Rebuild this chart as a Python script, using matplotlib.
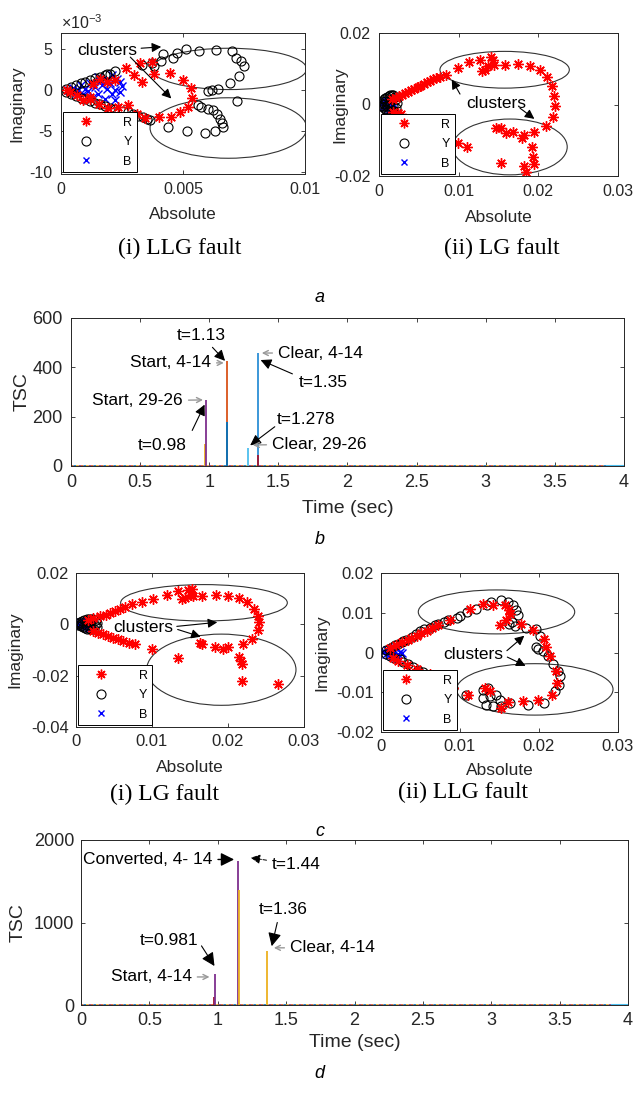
import matplotlib
matplotlib.use('Agg')
from matplotlib import pyplot as plt
from matplotlib.patches import Ellipse

plt.rcParams['font.family'] = ['Liberation Sans', 'DejaVu Sans']
plt.rcParams['mathtext.fontset'] = 'custom'
plt.rcParams['mathtext.rm'] = 'Liberation Sans'

# ---------------- data ----------------
# (a)(i) LLG fault, imaginary values in 1e-3 units
a1_R_x = [0.00023, 0.00037, 0.00064, 0.00092, 0.00119, 0.00133, 0.0016, 0.0019, 0.00221, 0.00266,
          0.00299, 0.00331, 0.00324, 0.00372, 0.00381, 0.00447, 0.00499, 0.00531, 0.00538, 0.00522,
          0.00488, 0.00449, 0.00403, 0.00344, 0.00313, 0.00276, 0.00235, 0.00194, 0.00155, 0.0012]
a1_R_y = [0.0, -0.2, -0.61, -1.23, -0.82, 0.82, 1.43, 1.02, 1.31, 2.79,
          1.93, 1.02, 3.36, 3.44, 2.05, 2.13, 1.31, 0.33, -0.9, -2.05,
          -2.66, -3.2, -3.28, -3.36, -2.87, -1.84, -2.05, -2.13, -1.6, -1.1]
a1_Y_x = [0.0002, 0.0004, 0.0006, 0.0008, 0.001, 0.0012, 0.0014, 0.0016, 0.0018, 0.002,
          0.0002, 0.0004, 0.0006, 0.0008, 0.001, 0.0012, 0.0014, 0.0016, 0.0018, 0.002, 0.0022,
          0.00187, 0.00221, 0.00255, 0.00276, 0.00296, 0.00317, 0.00337, 0.00351, 0.00365,
          0.00331, 0.00372, 0.00383, 0.00408, 0.00419, 0.0046, 0.00474, 0.00511, 0.00564, 0.00635,
          0.00702, 0.00717, 0.00736, 0.0075, 0.0073, 0.00693, 0.00645, 0.00617, 0.00601,
          0.00723, 0.00563, 0.00574, 0.00604, 0.00624, 0.00638, 0.00652, 0.00658, 0.00663, 0.00631,
          0.0059, 0.00515, 0.0044]
a1_Y_y = [0.2, 0.4, 0.6, 0.85, 1.05, 1.25, 1.45, 1.65, 1.85, 2.05,
          -0.2, -0.45, -0.65, -0.9, -1.1, -1.3, -1.5, -1.7, -1.9, -2.1, -2.3,
          2.05, 2.34, -2.46, -2.66, -2.87, -3.07, -3.28, -3.48, -3.6,
          3.07, 3.28, 2.99, 3.61, 4.39, 3.89, 4.51, 5.0, 4.8, 4.92,
          4.75, 3.89, 3.57, 2.95, 1.72, 0.94, 0.2, 0.0, -0.08,
          -1.31, -1.84, -2.05, -2.25, -2.34, -2.87, -3.48, -4.02, -4.51, -4.92,
          -5.2, -4.92, -4.43]
a1_B_x = [0.0003, 0.0005, 0.0006, 0.0008, 0.0009, 0.001, 0.0011, 0.0012, 0.0013, 0.0014, 0.0015,
          0.0016, 0.0017, 0.0018, 0.0019, 0.002, 0.0021, 0.0022, 0.0023, 0.0024, 0.0025, 0.0015,
          0.0019, 0.0022, 0.0007, 0.0004, 0.0021, 0.0024]
a1_B_y = [0.05, 0.3, -0.3, 0.6, -0.5, 0.2, -0.1, 0.9, -0.8, 0.4, -0.4,
          1.2, 0.6, -1.0, 0.2, 0.9, -0.5, 0.1, 1.4, -0.2, 0.5, 1.6,
          1.4, -1.2, 0.1, -0.1, 1.9, 1.0]

# (a)(ii) LG fault
a2_R_x = [0.00169, 0.0021, 0.00248, 0.0029, 0.00326, 0.0037, 0.00405, 0.0044, 0.00484, 0.0052, 0.00562,
          0.006, 0.00641, 0.0068, 0.00712, 0.0077, 0.00837, 0.00987, 0.01132, 0.0127, 0.0129, 0.01329,
          0.01368, 0.014, 0.01427, 0.01447, 0.01585, 0.0175, 0.01891, 0.02017, 0.02115, 0.02174,
          0.02202, 0.02214, 0.02186, 0.02096, 0.01946, 0.0182, 0.01793, 0.01683, 0.01592, 0.01537,
          0.01467, 0.00995, 0.01105, 0.01533, 0.01918, 0.01931, 0.0195, 0.0182, 0.0184,
          0.0018, 0.0024, 0.0027]
a2_R_y = [0.0015, 0.0019, 0.00224, 0.0027, 0.00318, 0.0036, 0.00411, 0.0044, 0.00486, 0.0053, 0.0058,
          0.0062, 0.00664, 0.007, 0.00738, 0.0078, 0.00832, 0.0102, 0.01178, 0.01252, 0.00925, 0.00972,
          0.01065, 0.01327, 0.01252, 0.01112, 0.01112, 0.01131, 0.01084, 0.00953, 0.00766, 0.00523,
          0.00243, -0.00028, -0.00336, -0.00598, -0.00757, -0.0085, -0.00944, -0.00757, -0.00804, -0.00645,
          -0.00645, -0.01065, -0.01178, -0.01626, -0.01196, -0.01458, -0.01673, -0.0171, -0.01878,
          -0.0022, -0.0025, -0.0026]
a2_Y_x = [0.0002, 0.0004, 0.0006, 0.0008, 0.001, 0.0012, 0.0014, 0.0016, 0.0018, 0.002, 0.0021, 0.0022,
          0.0003, 0.0005, 0.0007, 0.0009, 0.0011, 0.0013, 0.0015, 0.0017, 0.0019, 0.0021,
          0.0006, 0.001, 0.0014, 0.0018, 0.0008, 0.0016]
a2_Y_y = [0.0005, 0.001, 0.0014, 0.0018, 0.0021, 0.0024, 0.0026, 0.0027, 0.0026, 0.0022, 0.0015, 0.0005,
          -0.0004, -0.0008, -0.0012, -0.0016, -0.0019, -0.0021, -0.0022, -0.0021, -0.0018, -0.001,
          0.0002, -0.0003, 0.0008, -0.0005, 0.0011, 0.0016]
a2_B_x = [0.0002, 0.0004, 0.0005, 0.0007, 0.0008, 0.001, 0.0011, 0.0012, 0.0013, 0.0014, 0.0015,
          0.0016, 0.0017, 0.0009, 0.0006, 0.0013]
a2_B_y = [0.0001, 0.0004, -0.0004, 0.0008, -0.0007, 0.0011, -0.001, 0.0004, 0.0013, -0.0006, 0.0009,
          -0.0012, 0.0002, 0.0, -0.0001, -0.0014]

# (c)(i) LG fault
c1_R_x = [0.0016, 0.0022, 0.00316, 0.0039, 0.00447, 0.0051, 0.00579, 0.0065, 0.00732, 0.00864, 0.01009,
          0.01193, 0.01338, 0.0139, 0.01434, 0.01478, 0.01522, 0.01509, 0.01544, 0.01654, 0.01842,
          0.02004, 0.02145, 0.02254, 0.02342, 0.02399, 0.02412, 0.0239, 0.0232, 0.02193, 0.02149,
          0.02167, 0.02184, 0.0218, 0.02662, 0.02004, 0.01939, 0.01829, 0.01654, 0.01632, 0.01346,
          0.00996, 0.00776, 0.0070, 0.00623, 0.0055, 0.00491, 0.0042, 0.0036, 0.0029, 0.00228]
c1_R_y = [0.0018, 0.0024, 0.00323, 0.0038, 0.00452, 0.0052, 0.00581, 0.0068, 0.00774, 0.00865, 0.00994,
          0.01161, 0.0129, 0.00994, 0.01032, 0.01355, 0.01381, 0.01161, 0.01097, 0.01123, 0.01161,
          0.01123, 0.01032, 0.00865, 0.00606, 0.00323, 0.0009, -0.00219, -0.00555, -0.00774, -0.0129,
          -0.01419, -0.01548, -0.02194, -0.02323, -0.00865, -0.00942, -0.00865, -0.00774, -0.00735, -0.01329,
          -0.00968, -0.00774, -0.0071, -0.00645, -0.0058, -0.00516, -0.0045, -0.00387, -0.0032, -0.00258]
c1_Y_x = [0.0002, 0.0005, 0.0008, 0.0011, 0.0014, 0.0017, 0.002, 0.0023, 0.0026, 0.0028,
          0.0003, 0.0006, 0.0009, 0.0012, 0.0015, 0.0018, 0.0021, 0.0024, 0.0027,
          0.0007, 0.0013, 0.0019, 0.0025]
c1_Y_y = [0.0004, 0.0008, 0.0012, 0.0016, 0.0019, 0.0021, 0.0022, 0.002, 0.0015, 0.0005,
          -0.0004, -0.0008, -0.0012, -0.0016, -0.0019, -0.002, -0.002, -0.0017, -0.0009,
          0.0001, -0.0002, 0.0004, -0.0003]
c1_B_x = [0.0002, 0.0004, 0.0005, 0.0007, 0.0009, 0.001, 0.0012, 0.0013, 0.0015, 0.0016, 0.0018, 0.0019,
          0.0021, 0.0011, 0.0006, 0.0017]
c1_B_y = [0.0001, 0.0004, -0.0004, 0.0008, -0.0008, 0.0011, -0.0011, 0.0005, 0.0013, -0.0005, 0.0009,
          -0.0012, 0.0003, 0.0, -0.0001, -0.0014]

# (c)(ii) LLG fault
c2_R_x = [0.0012, 0.0019, 0.00265, 0.00346, 0.0038, 0.00451, 0.0051, 0.00577, 0.0065, 0.00725, 0.00872,
          0.01125, 0.01294, 0.0142, 0.01567, 0.01622, 0.01639, 0.01588, 0.01504, 0.01778, 0.01926,
          0.0206, 0.02094, 0.02136, 0.02212, 0.02229, 0.0217, 0.01989, 0.01799, 0.0161, 0.01525,
          0.01378, 0.01315, 0.01104, 0.00914, 0.00619, 0.00451, 0.0033, 0.0022, 0.0015]
c2_R_y = [0.0011, 0.0018, 0.0026, 0.00315, 0.0037, 0.00426, 0.0049, 0.00553, 0.0062, 0.00681, 0.00808,
          0.01106, 0.01208, 0.01191, 0.01191, 0.01064, 0.00962, 0.00808, 0.00698, 0.00706, 0.0057,
          0.0034, 0.00128, -0.00085, -0.00468, -0.00766, -0.01064, -0.01191, -0.01217, -0.01234, -0.01404,
          -0.00979, -0.00894, -0.01081, -0.00894, -0.00553, -0.00426, -0.0032, -0.0021, -0.0013]
c2_Y_x = [0.0006, 0.001, 0.0014, 0.0018, 0.0022, 0.0026, 0.00282, 0.0032, 0.00388, 0.0044, 0.00493,
          0.0055, 0.00619, 0.0068, 0.00725, 0.008, 0.00851, 0.00956,
          0.00999, 0.01083, 0.01201, 0.01336, 0.0139, 0.01517, 0.0161, 0.01673, 0.01715, 0.01736, 0.01652,
          0.01622, 0.01694, 0.01841, 0.01959, 0.0201, 0.01968, 0.01989, 0.02052, 0.02115, 0.02178, 0.02242,
          0.02271, 0.02254, 0.02199, 0.0206, 0.01862, 0.01631, 0.01525, 0.0142, 0.01323, 0.01294, 0.01285,
          0.01357, 0.01378, 0.01462, 0.01504, 0.01074, 0.00914, 0.00746, 0.00598, 0.00472, 0.00346, 0.0024,
          0.0006, 0.0011, 0.0016, 0.0028, 0.0041, 0.0053, 0.0067]
c2_Y_y = [0.0006, 0.001, 0.0014, 0.0018, 0.0022, 0.0026, 0.00298, 0.0032, 0.004, 0.0046, 0.00536,
          0.0058, 0.00621, 0.0068, 0.00723, 0.0077, 0.00808, 0.00877,
          0.00911, 0.01021, 0.01106, 0.01191, 0.01268, 0.01319, 0.01277, 0.01191, 0.01064, 0.00936, 0.00766,
          0.00723, 0.00655, 0.00621, 0.00596, 0.00426, 0.00145, 0.00085, 0.00043, -0.00085, -0.00298, -0.00468,
          -0.00596, -0.00808, -0.00979, -0.01277, -0.01319, -0.01277, -0.01336, -0.01345, -0.01319, -0.01149, -0.00936,
          -0.00894, -0.01106, -0.01081, -0.01191, -0.01064, -0.00894, -0.00723, -0.0057, -0.00451, -0.00298, -0.0017,
          -0.0005, -0.0009, -0.0013, -0.0024, -0.0036, -0.0048, -0.0062]
c2_B_x = [0.0002, 0.0004, 0.0006, 0.0008, 0.001, 0.0012, 0.0014, 0.0016, 0.0018, 0.002, 0.0022, 0.0024,
          0.0026, 0.0011, 0.0017, 0.0021]
c2_B_y = [0.0001, 0.0004, -0.0003, 0.0007, -0.0006, 0.001, -0.0009, 0.0013, -0.0012, 0.0008, -0.0004, 0.0002,
          -0.0001, 0.0001, 0.0003, -0.0014]

# (b) and (d) TSC spikes
b_spike_t = [0.97, 0.98, 1.13, 1.13, 1.278, 1.35, 1.35]
b_spike_v = [90, 268, 425, 180, 72, 458, 45]
b_spike_c = ['#EDB120', '#7E2F8E', '#D95319', '#0072BD', '#4DBEEE', '#2C8FD6', '#A2142F']
d_spike_t = [0.975, 0.981, 1.15, 1.155, 1.36]
d_spike_v = [100, 380, 1740, 1390, 650]
d_spike_c = ['#A2142F', '#7E2F8E', '#7E2F8E', '#EDB120', '#EDB120']
base_t = [0, 4]
base_v = [0, 0]
tail_t = [3.88, 4]
tail_v = [0, 0]

time_ticks = [0, 0.5, 1, 1.5, 2, 2.5, 3, 3.5, 4]
time_labels = ['0', '0.5', '1', '1.5', '2', '2.5', '3', '3.5', '4']

# ---------------- figure ----------------
W, H = 639, 1095
fig = plt.figure(figsize=(W / 100, H / 100), dpi=100)
axcol = '#262626'


def box(left, top, right, bottom):
    # axes rectangle from pixel edges
    return [left / W, 1 - bottom / H, (right - left) / W, (bottom - top) / H]


def style_ax(ax, fs, pad):
    ax.tick_params(direction='in', top=True, right=True, length=3, width=0.6,
                   labelsize=fs, colors=axcol, pad=pad)
    for s in ax.spines.values():
        s.set_linewidth(0.7)
        s.set_color(axcol)


def labels(ax, xl, yl, fs, xpos, ypos):
    ax.set_xlabel(xl, fontsize=fs, color=axcol)
    ax.set_ylabel(yl, fontsize=fs, color=axcol)
    ax.xaxis.set_label_coords(0.5, xpos)
    ax.yaxis.set_label_coords(ypos, 0.5)
    ax.xaxis.label.set_va('center')
    ax.yaxis.label.set_va('center')


def scatter_panel(ax, rx, ry, yx, yy, bx, by):
    ax.plot(bx, by, 'x', color='b', ms=5.5, mew=1)
    ax.plot(yx, yy, 'o', mfc='none', mec='k', ms=6.5, mew=0.8)
    ax.plot(rx, ry, ls='none', marker=(8, 2, 0), color='red', ms=7.5, mew=1)
    # legend entries in R, Y, B order
    hR, = ax.plot([], [], ls='none', marker=(8, 2, 0), color='red', ms=7, mew=1)
    hY, = ax.plot([], [], 'o', mfc='none', mec='k', ms=6.5, mew=0.8)
    hB, = ax.plot([], [], 'x', color='b', ms=5, mew=1)
    leg = ax.legend([hR, hY, hB], ['R', 'Y', 'B'], loc='lower left', fontsize=9,
                    frameon=True, fancybox=False, framealpha=1, borderaxespad=0.15,
                    borderpad=0.35, handlelength=3.0, handletextpad=1.5, labelspacing=0.6)
    leg.get_frame().set_edgecolor('k')
    leg.get_frame().set_linewidth(0.7)


def clusters(ax, txt_xy, tails, heads):
    ax.text(txt_xy[0], txt_xy[1], 'clusters', fontsize=12.5, ha='center', va='center', color='k')
    for t, h in zip(tails, heads):
        ax.annotate('', xy=h, xytext=t,
                    arrowprops=dict(arrowstyle='-|>', color='k', lw=0.8, mutation_scale=14))


def ellipse(ax, c, w, h):
    ax.add_patch(Ellipse(c, w, h, fill=False, ec='#333333', lw=0.8))


# a(i)
ax = fig.add_axes(box(61, 33, 305, 174))
scatter_panel(ax, a1_R_x, [v * 1e-3 for v in a1_R_y], a1_Y_x, [v * 1e-3 for v in a1_Y_y],
              a1_B_x, [v * 1e-3 for v in a1_B_y])
ellipse(ax, (0.00689, 2.62e-3), 0.00635, 5.04e-3)
ellipse(ax, (0.00686, -4.59e-3), 0.00642, 7.38e-3)
clusters(ax, (0.00191, 4.92e-3), [(0.00317, 5.12e-3), (0.00276, 4.3e-3)],
         [(0.00422, 5.33e-3), (0.0046, -1.23e-3)])
ax.set_xlim(0, 0.01)
ax.set_ylim(-10.2e-3, 7e-3)
ax.set_xticks([0, 0.005, 0.01])
ax.set_xticklabels(['0', '0.005', '0.01'])
ax.set_yticks([-10e-3, -5e-3, 0, 5e-3])
ax.set_yticklabels(['-10', '-5', '0', '5'])
ax.text(0.0, 1.025, r'$\times10^{-3}$', transform=ax.transAxes, fontsize=11.5, color=axcol)
labels(ax, 'Absolute', 'Imaginary', 12.5, -0.29, -0.18)
style_ax(ax, 11.5, 6)

# a(ii)
ax = fig.add_axes(box(379, 33, 618, 176))
scatter_panel(ax, a2_R_x, a2_R_y, a2_Y_x, a2_Y_y, a2_B_x, a2_B_y)
ellipse(ax, (0.01577, 0.00972), 0.01624, 0.01028)
ellipse(ax, (0.01643, -0.01187), 0.01439, 0.01561)
clusters(ax, (0.01474, 0.00037), [(0.01034, 0.00224), (0.01742, -0.00056)],
         [(0.00896, 0.00766), (0.01978, -0.00449)])
ax.set_xlim(0, 0.03)
ax.set_ylim(-0.02, 0.02)
ax.set_xticks([0, 0.01, 0.02, 0.03])
ax.set_xticklabels(['0', '0.01', '0.02', '0.03'])
ax.set_yticks([-0.02, 0, 0.02])
ax.set_yticklabels(['-0.02', '0', '0.02'])
labels(ax, 'Absolute', 'Imaginary', 12.5, -0.29, -0.163)
style_ax(ax, 11.5, 6)

fig.text(180 / W, 1 - 248 / H, '(i) LLG fault', family='Liberation Serif', fontsize=17,
         ha='center', va='center')
fig.text(502 / W, 1 - 248 / H, '(ii) LG fault', family='Liberation Serif', fontsize=17,
         ha='center', va='center')
fig.text(0.5, 1 - 297 / H, 'a', style='italic', fontsize=13, ha='center', va='center')

# b
ax = fig.add_axes(box(71, 318, 624, 466))
for k, c in enumerate(['#D95319', '#7E2F8E', '#EDB120', '#0072BD']):
    ax.plot(base_t, base_v, color=c, lw=1.2, ls=(k * 1.5, (1.5, 4.5)))
ax.plot(tail_t, tail_v, color='#4DBEEE', lw=1.5)
ax.vlines(b_spike_t, 0, b_spike_v, colors=b_spike_c, lw=1.3)
arr_k = dict(arrowstyle='-|>', color='k', lw=0.8, mutation_scale=16)
arr_g = dict(arrowstyle='->', color='#999999', lw=1.0, mutation_scale=9)
ax.annotate('t=1.13', xy=(1.128, 418), xytext=(0.94, 531), fontsize=12.5, ha='center', va='center',
            arrowprops=arr_k)
ax.annotate('Start, 4-14', xy=(1.125, 418), xytext=(1.013, 418), fontsize=12.5, ha='right', va='center',
            arrowprops=arr_g)
ax.annotate('Clear, 4-14', xy=(1.36, 458), xytext=(1.497, 458), fontsize=12.5, ha='left', va='center',
            arrowprops=arr_g)
ax.annotate('', xy=(1.353, 434), xytext=(1.62, 369), arrowprops=arr_k)
ax.text(1.823, 340, 't=1.35', fontsize=12.5, ha='center', va='center')
ax.annotate('Start, 29-26', xy=(0.975, 268), xytext=(0.81, 264), fontsize=12.5, ha='right', va='center',
            arrowprops=arr_g)
ax.annotate('', xy=(0.975, 259), xytext=(0.868, 134), arrowprops=arr_k)
ax.text(0.66, 85, 't=0.98', fontsize=12.5, ha='center', va='center')
ax.annotate('', xy=(1.28, 77), xytext=(1.49, 166), arrowprops=arr_k)
ax.text(1.70, 190, 't=1.278', fontsize=12.5, ha='center', va='center')
ax.annotate('Clear, 29-26', xy=(1.295, 85), xytext=(1.454, 89), fontsize=12.5, ha='left', va='center',
            arrowprops=arr_g)
ax.set_xlim(0, 4)
ax.set_ylim(0, 600)
ax.set_xticks(time_ticks)
ax.set_xticklabels(time_labels)
ax.set_yticks([0, 200, 400, 600])
labels(ax, 'Time (sec)', 'TSC', 14, -0.284, -0.088)
style_ax(ax, 13, 6)
fig.text(0.5, 1 - 540 / H, 'b', style='italic', fontsize=13, ha='center', va='center')

# c(i)
ax = fig.add_axes(box(76, 573, 304, 727))
scatter_panel(ax, c1_R_x, c1_R_y, c1_Y_x, c1_Y_y, c1_B_x, c1_B_y)
ellipse(ax, (0.01684, 0.00839), 0.02193, 0.01419)
ellipse(ax, (0.01912, -0.01768), 0.01965, 0.02774)
clusters(ax, (0.00882, -0.00129), [(0.0129, -0.0009), (0.01303, -0.00168)],
         [(0.01895, 0.0009), (0.01675, -0.00516)])
ax.set_xlim(0, 0.03)
ax.set_ylim(-0.04, 0.02)
ax.set_xticks([0, 0.01, 0.02, 0.03])
ax.set_xticklabels(['0', '0.01', '0.02', '0.03'])
ax.set_yticks([-0.04, -0.02, 0, 0.02])
ax.set_yticklabels(['-0.04', '-0.02', '0', '0.02'])
labels(ax, 'Absolute', 'Imaginary', 12.5, -0.26, -0.268)
style_ax(ax, 12, 5)

# c(ii)
ax = fig.add_axes(box(381, 573, 618, 732))
scatter_panel(ax, c2_R_x, c2_R_y, c2_Y_x, c2_Y_y, c2_B_x, c2_B_y)
ellipse(ax, (0.01462, 0.01021), 0.0198, 0.01106)
ellipse(ax, (0.01947, -0.00928), 0.0198, 0.01294)
clusters(ax, (0.01163, -0.00043), [(0.01567, 0.0), (0.01567, -0.00085)],
         [(0.01841, 0.00468), (0.01862, -0.00366)])
ax.set_xlim(0, 0.03)
ax.set_ylim(-0.02, 0.02)
ax.set_xticks([0, 0.01, 0.02, 0.03])
ax.set_xticklabels(['0', '0.01', '0.02', '0.03'])
ax.set_yticks([-0.02, -0.01, 0, 0.01, 0.02])
ax.set_yticklabels(['-0.02', '-0.01', '0', '0.01', '0.02'])
labels(ax, 'Absolute', 'Imaginary', 12.5, -0.24, -0.249)
style_ax(ax, 12, 5)

fig.text(165 / W, 1 - 794 / H, '(i) LG fault', family='Liberation Serif', fontsize=17,
         ha='center', va='center')
fig.text(463 / W, 1 - 792 / H, '(ii) LLG fault', family='Liberation Serif', fontsize=17,
         ha='center', va='center')
fig.text(0.5, 1 - 831 / H, 'c', style='italic', fontsize=13, ha='center', va='center')

# d
ax = fig.add_axes(box(81, 840, 628, 1005))
for k, c in enumerate(['#D95319', '#7E2F8E', '#EDB120', '#0072BD']):
    ax.plot(base_t, base_v, color=c, lw=1.2, ls=(k * 1.5, (1.5, 4.5)))
ax.plot(tail_t, tail_v, color='#4DBEEE', lw=1.5)
ax.vlines(d_spike_t, 0, d_spike_v, colors=d_spike_c, lw=1.3)
ax.annotate('Converted, 4- 14', xy=(1.14, 1764), xytext=(0.015, 1764), fontsize=12.5, ha='left',
            va='center', arrowprops=dict(arrowstyle='-|>', color='k', lw=1.0, mutation_scale=20))
ax.annotate('t=1.44', xy=(1.221, 1790), xytext=(1.397, 1699), fontsize=12.5, ha='left', va='center',
            arrowprops=dict(arrowstyle='-|>', color='k', lw=0.7, ls='--', mutation_scale=14))
ax.annotate('', xy=(1.39, 680), xytext=(1.44, 1033), arrowprops=dict(arrowstyle='-|>', color='k',
                                                                    lw=0.8, mutation_scale=20))
ax.text(1.477, 1163, 't=1.36', fontsize=12.5, ha='center', va='center')
ax.annotate('Clear, 4-14', xy=(1.39, 693), xytext=(1.528, 693), fontsize=12.5, ha='left', va='center',
            arrowprops=arr_g)
ax.annotate('', xy=(0.987, 444), xytext=(0.87, 745), arrowprops=dict(arrowstyle='-|>', color='k',
                                                                    lw=0.8, mutation_scale=20))
ax.text(0.644, 784, 't=0.981', fontsize=12.5, ha='center', va='center')
ax.annotate('Start, 4-14', xy=(0.96, 340), xytext=(0.81, 340), fontsize=12.5, ha='right', va='center',
            arrowprops=arr_g)
ax.set_xlim(0, 4)
ax.set_ylim(0, 2000)
ax.set_xticks(time_ticks)
ax.set_xticklabels(time_labels)
ax.set_yticks([0, 1000, 2000])
labels(ax, 'Time (sec)', 'TSC', 14, -0.23, -0.115)
style_ax(ax, 13, 5)
fig.text(0.5, 1 - 1074 / H, 'd', style='italic', fontsize=13, ha='center', va='center')

fig.savefig('out.png', dpi=100)
